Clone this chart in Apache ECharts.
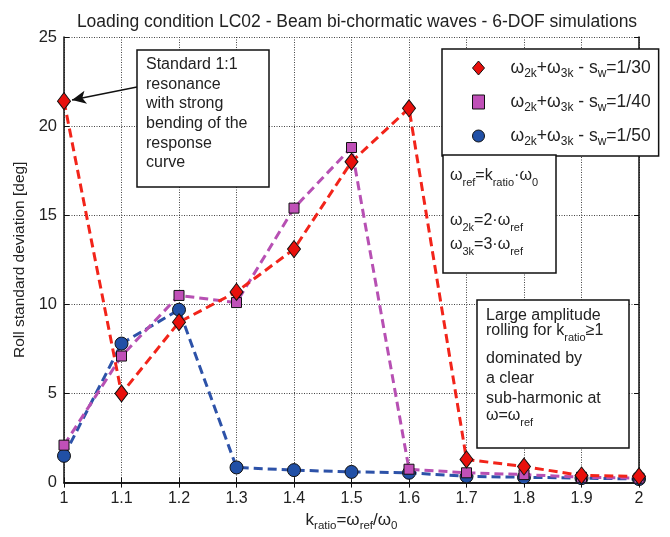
<!DOCTYPE html>
<html>
<head>
<meta charset="utf-8">
<script src="https://cdn.jsdelivr.net/npm/echarts@6/dist/echarts.min.js"></script>
<style>
  html, body { margin: 0; padding: 0; background: #fff; }
  #main { width: 670px; height: 537px; }
</style>
</head>
<body>
<div id="main"></div>
<script>
// k_ratio values on the x axis
var kRatio = ['1', '1.1', '1.2', '1.3', '1.4', '1.5', '1.6', '1.7', '1.8', '1.9', '2'];
// roll standard deviation [deg]
var sw30 = [21.4, 5.0, 9.0, 10.7, 13.1, 18.0, 21.0, 1.3, 0.9, 0.4, 0.35];
var sw40 = [2.1, 7.1, 10.5, 10.1, 15.4, 18.8, 0.75, 0.55, 0.45, 0.3, 0.25];
var sw50 = [1.5, 7.8, 9.7, 0.85, 0.7, 0.6, 0.55, 0.35, 0.3, 0.25, 0.2];
var yTicks = [0, 25, 5]; // min, max, step

var FONT = '"Liberation Sans", Arial, Helvetica, sans-serif';
var sub = { fontSize: 11, lineHeight: 12, verticalAlign: 'bottom', fontFamily: FONT, color: '#222' };
var mainTxt = { fontSize: 16, lineHeight: 24, verticalAlign: 'middle', fontFamily: FONT, color: '#222' };
var richTxt = { t: mainTxt, s: sub };
// legend uses a slightly bigger font
var richLeg = {
  t: { fontSize: 17.5, lineHeight: 24, verticalAlign: 'middle', fontFamily: FONT, color: '#222' },
  s: { fontSize: 12, lineHeight: 12, verticalAlign: 'bottom', fontFamily: FONT, color: '#222' }
};
var richAx = {
  t: { fontSize: 17, lineHeight: 24, verticalAlign: 'middle', fontFamily: FONT, color: '#222' },
  s: { fontSize: 11.5, lineHeight: 12, verticalAlign: 'bottom', fontFamily: FONT, color: '#222' }
};

function legendName(sw) {
  return '{t|ω}{s|2k}{t|+ω}{s|3k}{t| - s}{s|w}{t|=' + sw + '}';
}

var chart = echarts.init(document.getElementById('main'));

// text boxes drawn on top of the plot
function box(x, y, w, h) {
  return {
    type: 'rect', z: 20,
    shape: { x: x, y: y, width: w, height: h },
    style: { fill: '#fff', stroke: '#111', lineWidth: 1.5 }
  };
}
function line(x, y, txt) {
  return {
    type: 'text', z: 21,
    style: { x: x, y: y, text: txt, rich: richTxt, verticalAlign: 'middle', font: '16px ' + FONT, fill: '#222' }
  };
}

chart.setOption({
  animation: false,
  backgroundColor: '#fff',
  title: {
    text: 'Loading condition LC02 - Beam bi-chormatic waves - 6-DOF simulations',
    left: 352,
    textAlign: 'center',
    top: 8,
    textStyle: { fontFamily: FONT, fontSize: 17.5, fontWeight: 'normal', color: '#222' }
  },
  grid: { left: 64, right: 31, top: 37, bottom: 52 },
  legend: {
    data: [
      { name: legendName('1/30'), icon: 'diamond', itemStyle: { color: '#e8100c', borderColor: '#111', borderWidth: 1 } },
      { name: legendName('1/40'), icon: 'rect', itemStyle: { color: '#c050b8', borderColor: '#111', borderWidth: 1 } },
      { name: legendName('1/50'), icon: 'circle', itemStyle: { color: '#2150a6', borderColor: '#111', borderWidth: 1 } }
    ],
    orient: 'vertical',
    left: 442,
    top: 49,
    padding: [10, 8, 8, 30],
    itemGap: 13,
    itemWidth: 12,
    itemHeight: 14,
    backgroundColor: '#fff',
    borderColor: '#111',
    borderWidth: 1.5,
    borderRadius: 0,
    selectedMode: false,
    textStyle: { rich: richLeg, padding: [0, 0, 0, 21] }
  },
  xAxis: [{
    type: 'category',
    data: kRatio,
    boundaryGap: false,
    name: '{t|k}{s|ratio}{t|=ω}{s|ref}{t|/ω}{s|0}',
    nameLocation: 'middle',
    nameGap: 24,
    nameTextStyle: { rich: richAx, verticalAlign: 'top' },
    axisLine: { lineStyle: { color: '#111', width: 1.5 } },
    axisTick: { inside: true, length: 5, lineStyle: { color: '#111' } },
    axisLabel: { fontFamily: FONT, fontSize: 16, color: '#222', margin: 8 },
    splitLine: { show: true, lineStyle: { type: [1, 1.5], color: '#444', width: 1 } }
  }, {
    type: 'category',
    data: kRatio,
    boundaryGap: false,
    position: 'top',
    axisLine: { lineStyle: { color: '#111', width: 1.5 } },
    axisTick: { inside: true, length: 5, lineStyle: { color: '#111' } },
    axisLabel: { show: false },
    splitLine: { show: false }
  }],
  yAxis: [{
    type: 'value',
    min: yTicks[0],
    max: yTicks[1],
    interval: yTicks[2],
    name: 'Roll standard deviation [deg]',
    nameLocation: 'middle',
    nameGap: 33,
    nameTextStyle: { fontFamily: FONT, fontSize: 15.5, color: '#222' },
    axisLine: { show: true, lineStyle: { color: '#111', width: 1.5 } },
    axisTick: { show: true, inside: true, length: 5, lineStyle: { color: '#111' } },
    axisLabel: { fontFamily: FONT, fontSize: 16.5, color: '#222', margin: 7 },
    splitLine: { show: true, lineStyle: { type: [1, 1.5], color: '#444', width: 1 } }
  }, {
    type: 'value',
    min: yTicks[0],
    max: yTicks[1],
    interval: yTicks[2],
    position: 'right',
    axisLine: { show: true, lineStyle: { color: '#111', width: 1.5 } },
    axisTick: { show: true, inside: true, length: 5, lineStyle: { color: '#111' } },
    axisLabel: { show: false },
    splitLine: { show: false }
  }],
  series: [{
    name: legendName('1/50'),
    type: 'line',
    data: sw50,
    symbol: 'circle',
    symbolSize: 13,
    itemStyle: { color: '#2150a6', borderColor: '#111', borderWidth: 1 },
    lineStyle: { color: '#2d52a8', width: 3, type: [9, 5] },
    z: 2
  }, {
    name: legendName('1/40'),
    type: 'line',
    data: sw40,
    symbol: 'rect',
    symbolSize: 10,
    itemStyle: { color: '#c050b8', borderColor: '#111', borderWidth: 1 },
    lineStyle: { color: '#b750b3', width: 3, type: [9, 5] },
    z: 3
  }, {
    name: legendName('1/30'),
    type: 'line',
    data: sw30,
    symbol: 'diamond',
    symbolSize: [13, 17],
    itemStyle: { color: '#e8100c', borderColor: '#111', borderWidth: 1 },
    lineStyle: { color: '#f2241a', width: 3, type: [9, 5] },
    z: 4,
    markLine: {
      silent: true,
      symbol: ['none', 'arrow'],
      symbolSize: [10, 14],
      label: { show: false },
      lineStyle: { color: '#111', width: 1.5, type: 'solid' },
      data: [[{ x: 137, y: 87 }, { x: 72, y: 100 }]]
    }
  }],
  graphic: [
    box(137, 50, 132, 137),
    {
      type: 'text', z: 21,
      style: {
        x: 146, y: 55,
        text: 'Standard 1:1\nresonance\nwith strong\nbending of the\nresponse\ncurve',
        font: '16px ' + FONT, fill: '#222', lineHeight: 19.6, verticalAlign: 'top'
      }
    },
    box(443, 155, 113, 118),
    line(450, 176, '{t|ω}{s|ref}{t|=k}{s|ratio}{t|·ω}{s|0}'),
    line(450, 221, '{t|ω}{s|2k}{t|=2·ω}{s|ref}'),
    line(450, 245, '{t|ω}{s|3k}{t|=3·ω}{s|ref}'),
    box(477, 300, 152, 148),
    line(486, 316, '{t|Large amplitude}'),
    line(486, 331, '{t|rolling for k}{s|ratio}{t|≥1}'),
    line(486, 359, '{t|dominated by}'),
    line(486, 379, '{t|a clear}'),
    line(486, 399, '{t|sub-harmonic at}'),
    line(486, 416, '{t|ω=ω}{s|ref}')
  ]
});
</script>
</body>
</html>
